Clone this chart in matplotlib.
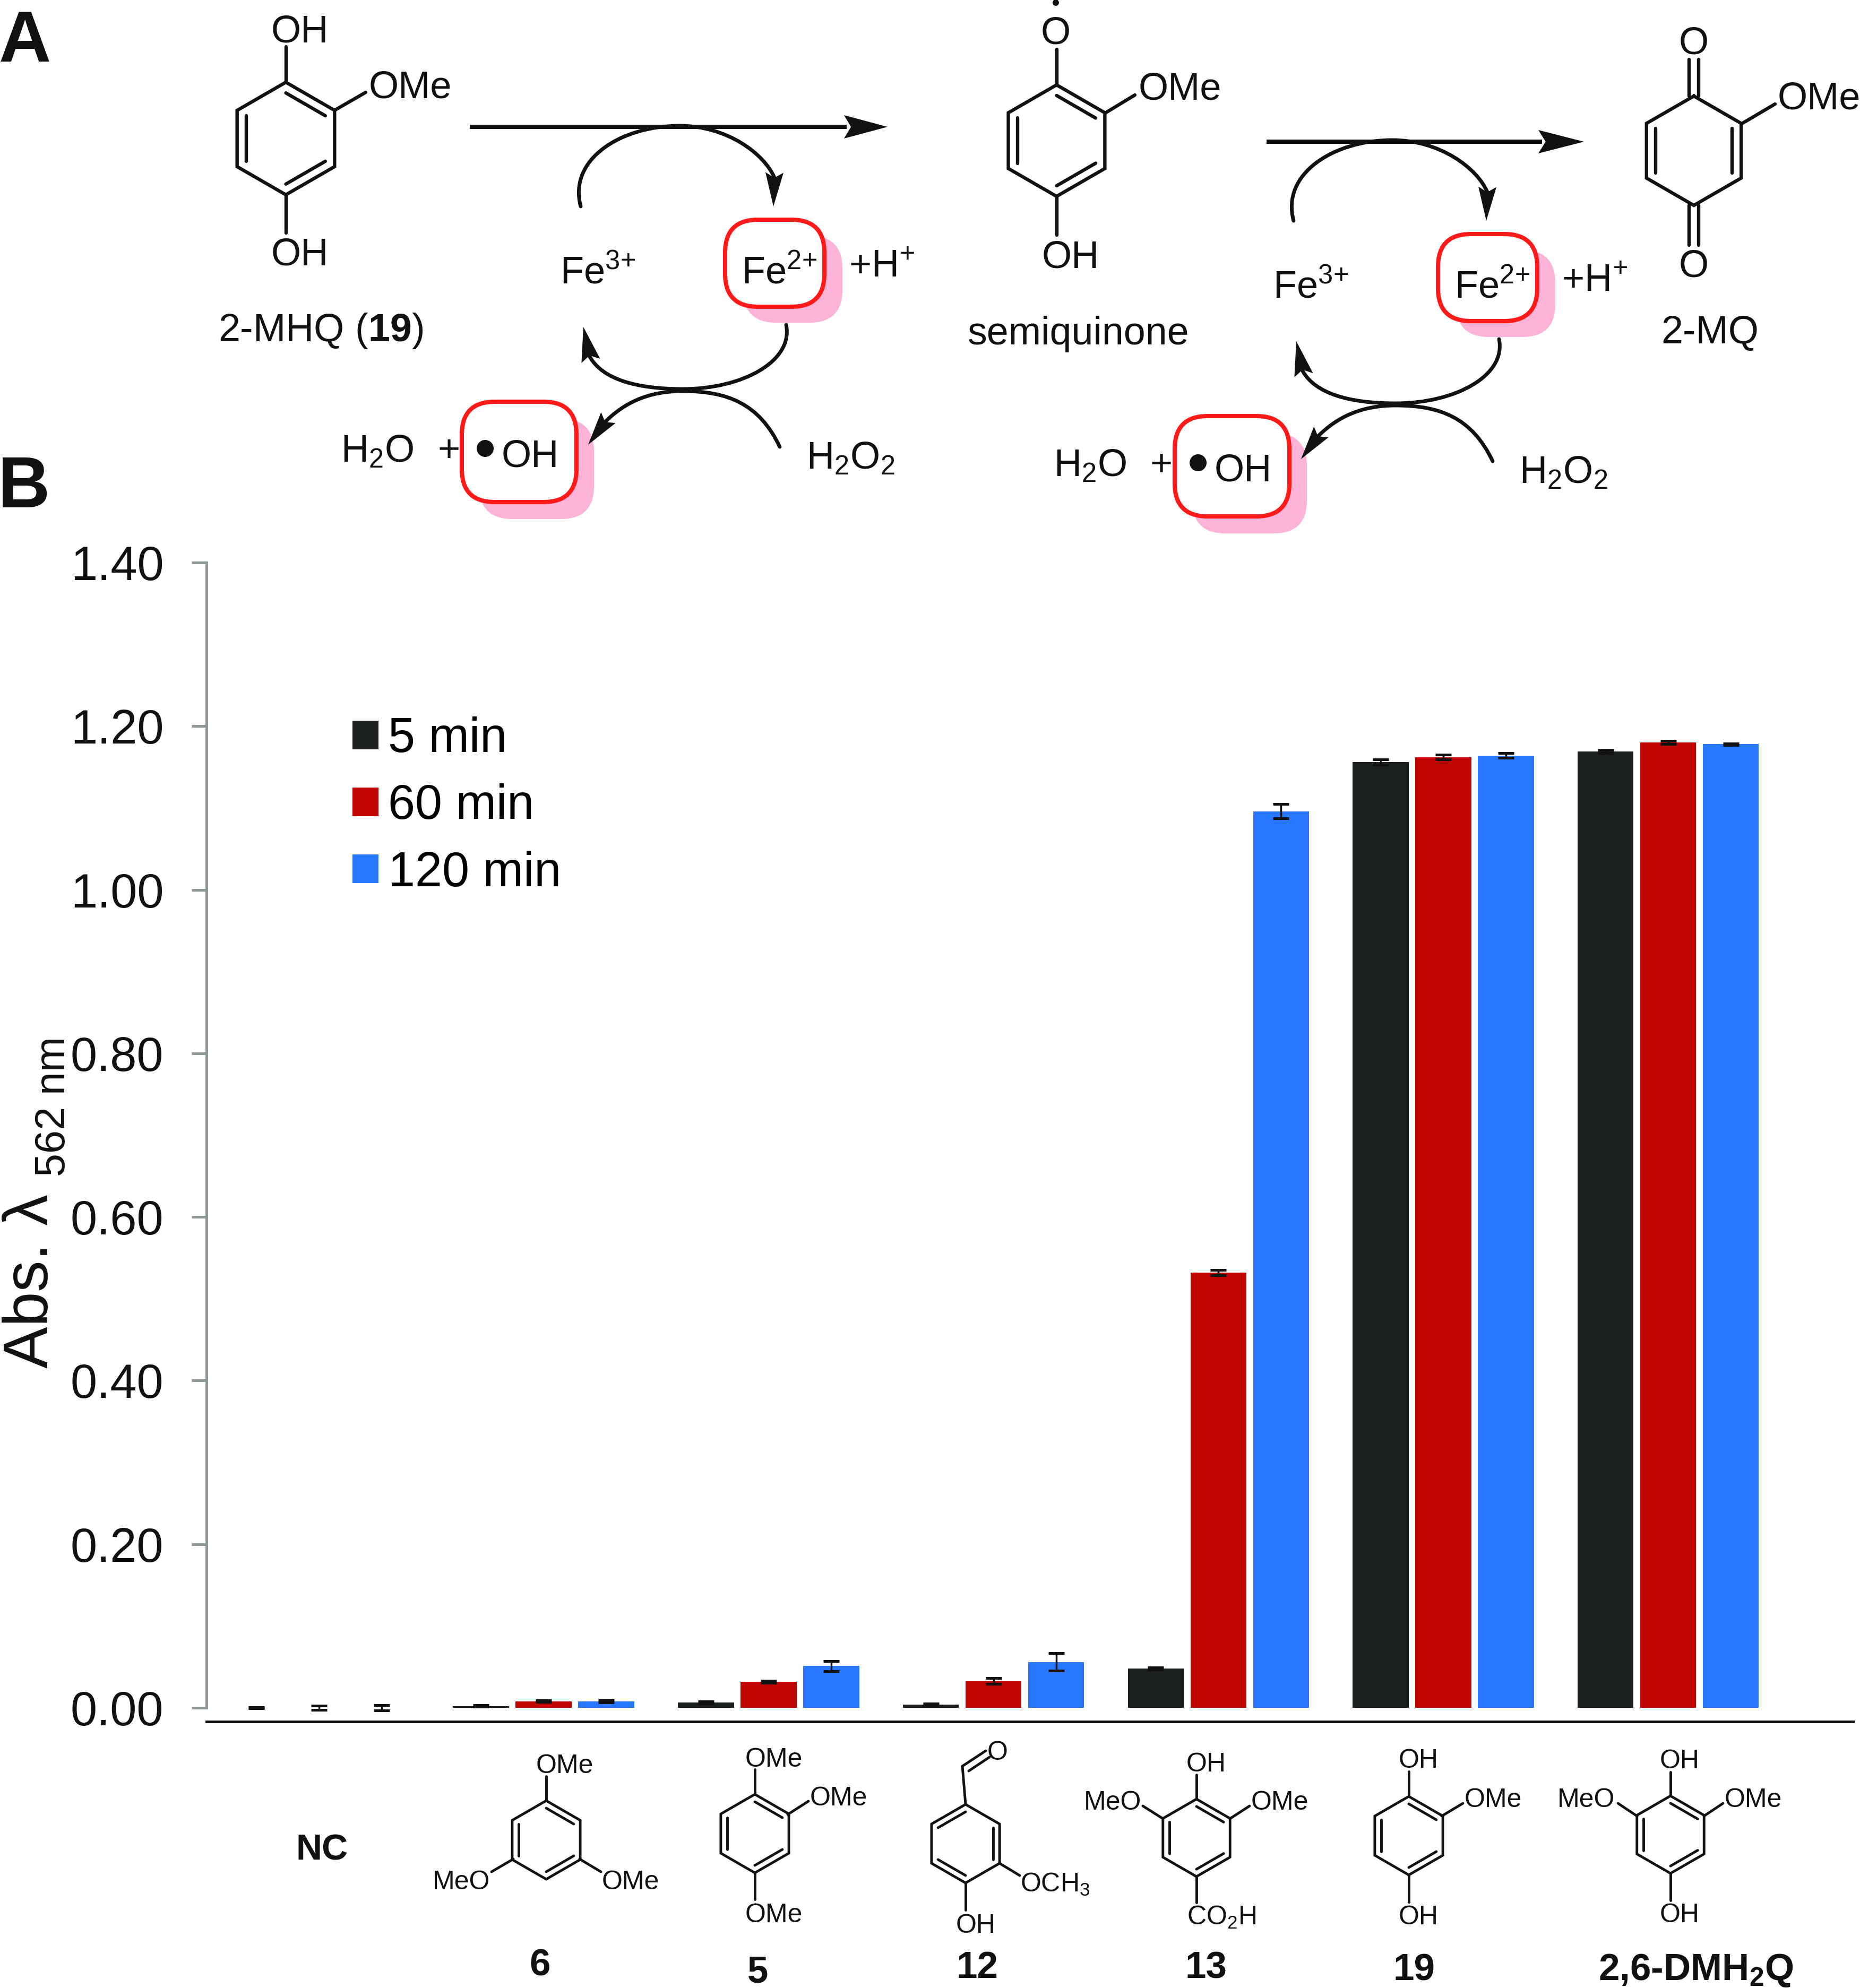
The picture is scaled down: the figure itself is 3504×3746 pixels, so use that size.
import matplotlib
matplotlib.use('Agg')
import matplotlib.pyplot as plt
from matplotlib.patches import FancyBboxPatch, PathPatch, Polygon, Circle
from matplotlib.path import Path
import numpy as np

plt.rcParams['font.family'] = ['Liberation Sans', 'DejaVu Sans']
plt.rcParams['mathtext.fontset'] = 'custom'
plt.rcParams['mathtext.rm'] = 'Liberation Sans'
plt.rcParams['mathtext.it'] = 'Liberation Sans'
plt.rcParams['mathtext.bf'] = 'Liberation Sans:bold'
plt.rcParams['mathtext.default'] = 'rm'

# data
compounds = ['NC', '6', '5', '12', '13', '19', '2,6-DMH$_2$Q']
abs_5min = [0.000, 0.002, 0.0065, 0.004, 0.048, 1.156, 1.169]
abs_60min = [0.000, 0.008, 0.032, 0.0325, 0.532, 1.162, 1.180]
abs_120min = [0.000, 0.008, 0.051, 0.056, 1.096, 1.164, 1.178]
err_5min = [0.0008, 0.001, 0.001, 0.001, 0.001, 0.003, 0.002]
err_60min = [0.0025, 0.001, 0.0012, 0.0036, 0.003, 0.003, 0.002]
err_120min = [0.003, 0.0018, 0.0064, 0.0105, 0.009, 0.003, 0.001]
y_ticks = [0.00, 0.20, 0.40, 0.60, 0.80, 1.00, 1.20, 1.40]
series_names = ['5 min', '60 min', '120 min']

BLACK = '#1c1f20'
RED = '#c00500'
BLUE = '#2878ff'
AXIS_GREY = '#8e9898'
BOX_RED = '#ff1a1a'
PINK = '#fdb3d8'
INK = '#111111'

W, H = 3504, 3746
fig = plt.figure(figsize=(W / 100, H / 100), dpi=100)

# overlay in reference pixels for the scheme and the structures
ov = fig.add_axes([0, 0, 1, 1])
ov.set_xlim(0, W)
ov.set_ylim(H, 0)
ov.axis('off')


def label(x, y, s, size=52, ha='left', weight='normal'):
    # y is the middle of the capitals
    ov.text(x, y + 0.358 * size * 100 / 72, s, fontsize=size, ha=ha, va='baseline',
            weight=weight, color=INK)


def bond(x0, y0, x1, y1, lw=4.6):
    ov.plot([x0, x1], [y0, y1], color=INK, lw=lw, solid_capstyle='round')


def ring(cx, cy, r, doubles, lw=4.6):
    ang = np.radians(90 - 60 * np.arange(7))
    xs = cx + r * np.cos(ang)
    ys = cy - r * np.sin(ang)
    ov.plot(xs, ys, color=INK, lw=lw, solid_joinstyle='miter')
    for i in doubles:
        ov.plot([cx + 0.81 * (xs[i] - cx), cx + 0.81 * (xs[i + 1] - cx)],
                [cy + 0.81 * (ys[i] - cy), cy + 0.81 * (ys[i + 1] - cy)],
                color=INK, lw=lw, solid_capstyle='round')
    return xs, ys


def arrowhead(bx, by, tx, ty, hw):
    d = np.array([tx - bx, ty - by], dtype=float)
    n = np.array([-d[1], d[0]]) / np.hypot(*d)
    b = np.array([bx, by])
    pts = [(tx, ty), b + n * hw, b + d * 0.16, b - n * hw]
    ov.add_patch(Polygon(pts, closed=True, fc=INK, ec='none', zorder=4))


def curve(points, lw=5.0):
    codes = [Path.MOVETO] + [Path.CURVE4] * (len(points) - 1)
    ov.add_patch(PathPatch(Path(points, codes), fc='none', ec=INK, lw=lw, capstyle='round'))


def red_box(x0, y0, x1, y1, sx, sy):
    ov.add_patch(FancyBboxPatch((x0 + sx, y0 + sy), x1 - x0, y1 - y0, fc=PINK, ec='none',
                                boxstyle='round,pad=0,rounding_size=62', zorder=1))
    ov.add_patch(FancyBboxPatch((x0, y0), x1 - x0, y1 - y0, fc='white', ec=BOX_RED, lw=5.8,
                                boxstyle='round,pad=0,rounding_size=62', zorder=2))


def cycle(dx, dy):
    red_box(1366 + dx, 414 + dy, 1553 + dx, 578 + dy, 34, 30)
    red_box(870 + dx, 757 + dy, 1086 + dx, 946 + dy, 33, 32)
    curve([(1094 + dx, 389 + dy), (1070 + dx, 300 + dy), (1170 + dx, 237 + dy), (1280 + dx, 237 + dy),
           (1370 + dx, 237 + dy), (1440 + dx, 290 + dy), (1459 + dx, 335 + dy)])
    arrowhead(1459 + dx, 325 + dy, 1457 + dx, 389 + dy, 17)
    curve([(1481 + dx, 612 + dy), (1495 + dx, 680 + dy), (1400 + dx, 733 + dy), (1286 + dx, 733 + dy),
           (1200 + dx, 733 + dy), (1135 + dx, 715 + dy), (1111 + dx, 672 + dy)])
    arrowhead(1113 + dx, 680 + dy, 1099 + dx, 616 + dy, 18)
    curve([(1469 + dx, 842 + dy), (1430 + dx, 760 + dy), (1370 + dx, 737 + dy), (1286 + dx, 737 + dy),
           (1220 + dx, 737 + dy), (1175 + dx, 760 + dy), (1140 + dx, 795 + dy)])
    arrowhead(1146 + dx, 787 + dy, 1108 + dx, 838 + dy, 17)
    size = 52
    for x, y, s in [(1055, 534, 'Fe$^{3{+}}$'), (1397, 534, 'Fe$^{2{+}}$'), (1599, 522, '+H$^{+}$'),
                    (642, 871, 'H$_2$O'), (1519, 884, 'H$_2$O$_2$'), (945, 879, 'OH')]:
        ov.text(x + dx, y + dy, s, fontsize=size, va='baseline', color=INK, zorder=5)
    ov.text(824 + dx, 869 + dy, '+', fontsize=size, va='baseline', color=INK, zorder=5)
    ov.add_patch(Circle((914 + dx, 845 + dy), 16, fc=INK, ec='none', zorder=5))


# panel letters
label(-2, 67, 'A', size=98, weight='bold')
label(-4, 907, 'B', size=98, weight='bold')

# 2-MHQ
ring(538.5, 261, 106, [0, 2, 4])
bond(538.5, 88, 538.5, 155)
bond(538.5, 367, 538.5, 439)
bond(630, 208, 689, 174)
label(511, 54, 'OH')
label(695, 159, 'OMe')
label(511, 474, 'OH')
ov.text(411, 643, '2-MHQ ($\\mathbf{19}$)', fontsize=53, va='baseline', color=INK)

# reaction arrows
ov.plot([885, 1595], [239, 239], color=INK, lw=5.8, solid_capstyle='butt', zorder=3)
arrowhead(1590, 239, 1672, 239, 22)
ov.plot([2386, 2905], [267, 267], color=INK, lw=5.8, solid_capstyle='butt', zorder=3)
arrowhead(2898, 267, 2984, 267, 22)
cycle(0, 0)
cycle(1343, 27)

# semiquinone
ring(1990.5, 265, 105, [0, 2, 4])
bond(1990.5, 93, 1990.5, 160)
bond(1990.5, 370, 1990.5, 443)
bond(2082, 213, 2138, 179)
label(1989, 57, 'O', ha='center')
ov.add_patch(Circle((1989, 5), 6, fc=INK, ec='none'))
label(2145, 162, 'OMe')
label(1963, 479, 'OH')
ov.text(2032, 649, 'semiquinone', fontsize=53, ha='center', va='baseline', color=INK)

# 2-MQ
ring(3191, 284, 103, [1, 4])
for off in (-9, 9):
    bond(3191 + off, 112, 3191 + off, 181)
    bond(3191 + off, 387, 3191 + off, 462)
bond(3283, 232, 3344, 196)
label(3191, 76, 'O', ha='center')
label(3191, 496, 'O', ha='center')
label(3349, 180, 'OMe')
ov.text(3221, 647, '2-MQ', fontsize=53, ha='center', va='baseline', color=INK)

# structures under the bars
LW = 3.5
FS = 36
label(607, 3480, 'NC', size=49, ha='center', weight='bold')

ring(1029, 3467, 74, [0, 2, 4], lw=LW)
bond(1029, 3347, 1029, 3393, LW)
bond(1092, 3503, 1132, 3527, LW)
bond(967, 3503, 926, 3527, LW)
label(1010, 3323, 'OMe', FS)
label(1134, 3542, 'OMe', FS)
label(923, 3542, 'MeO', FS, ha='right')

ring(1422, 3455, 74, [0, 2, 4], lw=LW)
bond(1422, 3334, 1422, 3381, LW)
bond(1484, 3419, 1523, 3394, LW)
bond(1422, 3528, 1422, 3579, LW)
label(1404, 3311, 'OMe', FS)
label(1526, 3384, 'OMe', FS)
label(1404, 3604, 'OMe', FS)

ring(1819, 3474, 74, [1, 3, 5], lw=LW)
bond(1813, 3328, 1819, 3400, LW)
bond(1813, 3328, 1857, 3299, LW)
bond(1825, 3337, 1864, 3311, LW)
bond(1883, 3511, 1921, 3534, LW)
bond(1819, 3548, 1819, 3599, LW)
label(1879, 3298, 'O', FS, ha='center')
label(1922, 3547, 'OCH$_3$', FS)
label(1801, 3624, 'OH', FS)

ring(2254, 3463, 73, [0, 2, 4], lw=LW)
bond(2254, 3344, 2254, 3390, LW)
bond(2191, 3427, 2153, 3403, LW)
bond(2317, 3427, 2354, 3403, LW)
bond(2254, 3535, 2254, 3585, LW)
label(2235, 3320, 'OH', FS)
label(2150, 3392, 'MeO', FS, ha='right')
label(2357, 3392, 'OMe', FS)
label(2236, 3609, 'CO$_2$H', FS)

ring(2654, 3459, 74, [0, 2, 4], lw=LW)
bond(2654, 3338, 2654, 3384, LW)
bond(2716, 3422, 2756, 3398, LW)
bond(2654, 3533, 2654, 3584, LW)
label(2635, 3313, 'OH', FS)
label(2759, 3387, 'OMe', FS)
label(2635, 3608, 'OH', FS)

ring(3147, 3457, 73, [0, 2, 4], lw=LW)
bond(3147, 3339, 3147, 3384, LW)
bond(3084, 3422, 3048, 3398, LW)
bond(3210, 3422, 3246, 3398, LW)
bond(3147, 3530, 3147, 3581, LW)
label(3127, 3314, 'OH', FS)
label(3042, 3387, 'MeO', FS, ha='right')
label(3249, 3387, 'OMe', FS)
label(3127, 3604, 'OH', FS)

# compound numbers under the structures
name_x = [None, 1017, 1428, 1841, 2272, 2664, 3195]
name_y = [None, 3697, 3710, 3702, 3702, 3706, 3706]
for name, x, y in zip(compounds, name_x, name_y):
    if x is None:
        continue
    s = name if '$' not in name else '2,6-DMH$\\mathbf{_2}$Q'
    label(x, y, s, size=51, ha='center', weight='bold')

# y axis title
ov.text(90, 2578, 'Abs. λ', fontsize=85, rotation=90, rotation_mode='anchor',
        ha='left', va='baseline', color=INK)
ov.text(122, 2217, '562 nm', fontsize=57, rotation=90, rotation_mode='anchor',
        ha='left', va='baseline', color=INK)

# bar chart
left_px, right_px = 389, 3491
top_px, zero_px, bottom_px = 1060, 3218, 3244
group_px, first_px = 423.7, 600.5
px_per_unit = (zero_px - top_px) / 1.4

ax = fig.add_axes([left_px / W, 1 - bottom_px / H, (right_px - left_px) / W, (bottom_px - top_px) / H])
ax.patch.set_alpha(0)
ax.set_xlim((left_px - first_px) / group_px, (right_px - first_px) / group_px)
ax.set_ylim(-(bottom_px - zero_px) / px_per_unit, 1.4)

x = np.arange(len(compounds))
bar_w = 105.5 / group_px
step = 118 / group_px
err_style = dict(ecolor=INK, elinewidth=2.5, capsize=10.8, capthick=3.6)
series = [(abs_5min, err_5min, BLACK, -step), (abs_60min, err_60min, RED, 0), (abs_120min, err_120min, BLUE, step)]
for name, (vals, errs, col, off) in zip(series_names, series):
    ax.bar(x + off, vals, bar_w, yerr=errs, color=col, label=name, error_kw=err_style)

ax.set_yticks(y_ticks)
ax.set_yticklabels(['%.2f' % v for v in y_ticks], fontsize=65, color=INK)
ax.set_xticks([])
ax.tick_params(axis='y', length=20, width=3.6, color=AXIS_GREY, pad=38)
ax.spines['top'].set_visible(False)
ax.spines['right'].set_visible(False)
ax.spines['left'].set_color(AXIS_GREY)
ax.spines['left'].set_linewidth(3.6)
ax.spines['left'].set_bounds(0, 1.4)
ax.spines['bottom'].set_color(INK)
ax.spines['bottom'].set_linewidth(3.6)

ax.legend(loc='upper left', bbox_to_anchor=(664 / W, 1 - 1350 / H), bbox_transform=fig.transFigure,
          frameon=False, fontsize=66, handlelength=0.53, handleheight=0.53, handletextpad=0.2,
          labelspacing=0.44, borderpad=0, borderaxespad=0)

fig.savefig('out.png', dpi=100)
